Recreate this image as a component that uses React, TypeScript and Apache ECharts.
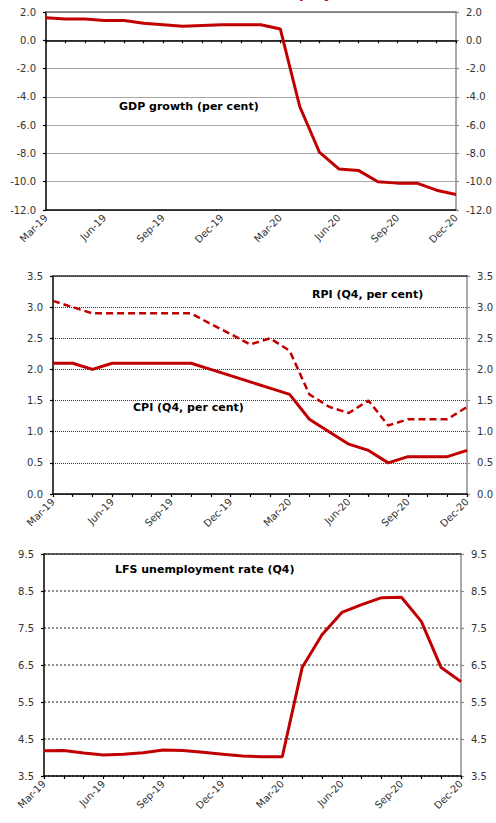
import React, { useEffect, useRef } from "react";
import * as echarts from "echarts";

const months = [
  "Mar-19", "Apr-19", "May-19", "Jun-19", "Jul-19", "Aug-19", "Sep-19", "Oct-19", "Nov-19", "Dec-19",
  "Jan-20", "Feb-20", "Mar-20", "Apr-20", "May-20", "Jun-20", "Jul-20", "Aug-20", "Sep-20", "Oct-20",
  "Nov-20", "Dec-20",
];

const gdpGrowth = [1.6, 1.5, 1.5, 1.4, 1.4, 1.2, 1.1, 1.0, 1.05, 1.1, 1.1, 1.1, 0.8, -4.7, -7.9, -9.1, -9.2, -10.0, -10.1, -10.1, -10.6, -10.9];
const cpi = [2.1, 2.1, 2.0, 2.1, 2.1, 2.1, 2.1, 2.1, 2.0, 1.9, 1.8, 1.7, 1.6, 1.2, 1.0, 0.8, 0.7, 0.5, 0.6, 0.6, 0.6, 0.7];
const rpi = [3.1, 3.0, 2.9, 2.9, 2.9, 2.9, 2.9, 2.9, 2.73, 2.57, 2.4, 2.5, 2.3, 1.6, 1.4, 1.3, 1.5, 1.1, 1.2, 1.2, 1.2, 1.4];
const unemployment = [4.18, 4.19, 4.12, 4.07, 4.09, 4.13, 4.2, 4.19, 4.14, 4.09, 4.04, 4.02, 4.02, 6.43, 7.32, 7.92, 8.13, 8.32, 8.33, 7.68, 6.43, 6.05];

const panelLabels = {
  gdp: "GDP growth (per cent)",
  rpi: "RPI (Q4, per cent)",
  cpi: "CPI (Q4, per cent)",
  lfs: "LFS unemployment rate (Q4)",
};
const titleFragment = "unemployment";

const RED = "#c00000";
const FONT = "DejaVu Sans";

function bottomAxis(gridIndex: number, onZero: boolean, showLabels: boolean, showTicks: boolean) {
  return {
    type: "category",
    gridIndex,
    data: months,
    boundaryGap: false,
    position: "bottom",
    axisLine: { show: true, onZero, lineStyle: { color: "#000", width: 1.5 } },
    axisTick: { show: showTicks, interval: 0, length: 3, inside: false, lineStyle: { color: "#000", width: 1.2 } },
    axisLabel: {
      show: showLabels,
      interval: 2,
      rotate: 45,
      margin: 6,
      fontSize: 10,
      fontFamily: FONT,
      color: "#333",
    },
    splitLine: { show: false },
  };
}

function topAxis(gridIndex: number, color: string) {
  return {
    type: "category",
    gridIndex,
    data: months,
    boundaryGap: false,
    position: "top",
    axisLine: { show: true, onZero: false, lineStyle: { color, width: 1.5 } },
    axisTick: { show: false },
    axisLabel: { show: false },
    splitLine: { show: false },
  };
}

function valueAxis(
  gridIndex: number,
  side: "left" | "right",
  min: number,
  max: number,
  interval: number,
  split: any
) {
  const isLeft = side === "left";
  return {
    type: "value",
    gridIndex,
    position: side,
    min,
    max,
    interval,
    axisLine: { show: true, onZero: false, lineStyle: { color: isLeft ? "#000" : "#8c8c8c", width: 1.5 } },
    axisTick: { show: true, length: 3, lineStyle: { color: isLeft ? "#000" : "#8c8c8c", width: 1.2 } },
    axisLabel: {
      margin: 10,
      fontSize: 10,
      fontFamily: FONT,
      color: "#333",
      formatter: (v: number) => v.toFixed(1),
    },
    splitLine: split ? { show: true, lineStyle: split } : { show: false },
  };
}

function labelText(text: string, x: number, y: number) {
  return {
    type: "text",
    left: x,
    top: y,
    style: {
      text,
      fontFamily: FONT,
      fontWeight: "bold",
      fontSize: 11,
      fill: "#000",
    },
  };
}

export default function App() {
  const ref = useRef<HTMLDivElement>(null);

  useEffect(() => {
    if (!ref.current) return;
    const chart = echarts.init(ref.current, null, { renderer: "svg" });
    const option: any = {
      animation: false,
      backgroundColor: "#fff",
      grid: [
        { left: 46, top: 12, width: 410, height: 198, containLabel: false },
        { left: 53, top: 276, width: 415, height: 218, containLabel: false },
        { left: 44, top: 554, width: 417, height: 222, containLabel: false },
      ],
      xAxis: [
        bottomAxis(0, true, false, true),
        bottomAxis(0, false, true, false),
        topAxis(0, "#6e6e6e"),
        bottomAxis(1, false, true, true),
        topAxis(1, "#333"),
        bottomAxis(2, false, true, true),
        topAxis(2, "#333"),
      ],
      yAxis: [
        valueAxis(0, "left", -12, 2, 2, { color: "#a6a6a6", width: 1.2, type: "solid" }),
        valueAxis(0, "right", -12, 2, 2, null),
        valueAxis(1, "left", 0, 3.5, 0.5, { color: "#333", width: 1, type: "dotted" }),
        valueAxis(1, "right", 0, 3.5, 0.5, null),
        valueAxis(2, "left", 3.5, 9.5, 1, { color: "#8c8c8c", width: 2, type: "dotted" }),
        valueAxis(2, "right", 3.5, 9.5, 1, null),
      ],
      series: [
        {
          name: "GDP growth",
          type: "line",
          xAxisIndex: 0,
          yAxisIndex: 0,
          data: gdpGrowth,
          symbol: "none",
          lineStyle: { color: RED, width: 3 },
        },
        {
          name: "RPI",
          type: "line",
          xAxisIndex: 3,
          yAxisIndex: 2,
          data: rpi,
          symbol: "none",
          lineStyle: { color: RED, width: 2.5, type: [7, 4] },
        },
        {
          name: "CPI",
          type: "line",
          xAxisIndex: 3,
          yAxisIndex: 2,
          data: cpi,
          symbol: "none",
          lineStyle: { color: RED, width: 3 },
        },
        {
          name: "LFS unemployment",
          type: "line",
          xAxisIndex: 5,
          yAxisIndex: 4,
          data: unemployment,
          symbol: "none",
          lineStyle: { color: RED, width: 3 },
        },
      ],
      graphic: [
        {
          type: "text",
          x: 255,
          y: -7.5,
          style: {
            text: titleFragment,
            fontFamily: FONT,
            fontWeight: "bold",
            fontSize: 14,
            fill: "#e00000",
            verticalAlign: "middle",
          },
        },
        labelText(panelLabels.gdp, 119, 101),
        labelText(panelLabels.rpi, 312, 289),
        labelText(panelLabels.cpi, 133, 402),
        labelText(panelLabels.lfs, 115, 564),
      ],
    };
    chart.setOption(option);
    return () => chart.dispose();
  }, []);

  return (
    <div
      ref={ref}
      style={{ position: "absolute", left: 0, top: 0, width: 496, height: 823 }}
    />
  );
}
